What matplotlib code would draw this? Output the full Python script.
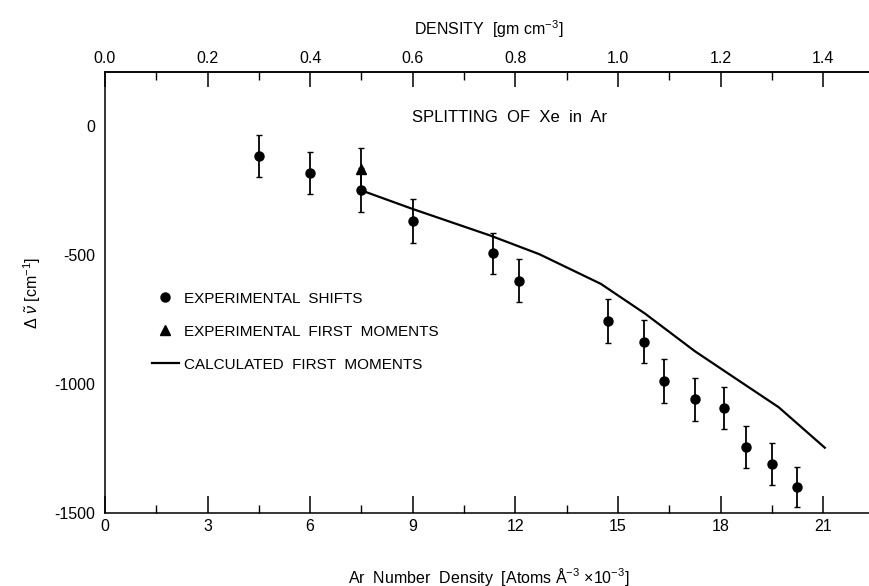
import numpy as np
from matplotlib import pyplot as plt
from matplotlib.lines import Line2D
from matplotlib.ticker import MultipleLocator, FixedLocator, FormatStrFormatter

# font: narrow sans to mimic the drafting lettering
plt.rcParams['font.family'] = ['Liberation Sans Narrow', 'Liberation Sans', 'DejaVu Sans']
plt.rcParams['mathtext.fontset'] = 'custom'
plt.rcParams['mathtext.rm'] = 'Liberation Sans'
plt.rcParams['mathtext.it'] = 'Liberation Sans:italic'

# experimental shifts (circles) with error bars
shift_x = [4.5, 6.0, 7.5, 9.0, 11.35, 12.1, 14.7, 15.75, 16.35, 17.25, 18.1, 18.75, 19.5, 20.25]
shift_y = [-116, -183, -248, -368, -493, -600, -757, -836, -988, -1059, -1093, -1243, -1311, -1399]
shift_err = [80, 81, 84, 84, 80, 83, 85, 83, 85, 83, 80, 81, 82, 78]

# experimental first moments (triangle)
moment_x = [7.5]
moment_y = [-168]
moment_err = [81]

# calculated first moments (solid curve)
calc_x = [7.5, 9.0, 11.25, 12.7, 14.5, 15.8, 17.25, 18.4, 19.7, 21.05]
calc_y = [-250, -322, -424, -497, -612, -728, -873, -975, -1090, -1247]

y_ticks = [0, -500, -1000, -1500]
y_ticklabels = ['0', '-500', '-1000', '-1500']
top_ticks = [0.0, 0.2, 0.4, 0.6, 0.8, 1.0, 1.2, 1.4]

fig = plt.figure(figsize=(8.7, 5.86), dpi=100)
# axes runs a bit past the right edge, like the cropped scan
ax = fig.add_axes([105/870, 1-513/586, (872-105)/870, (513-72)/586])

ax.errorbar(shift_x, shift_y, yerr=shift_err, fmt='o', color='k', ms=6.5,
            elinewidth=1.3, capsize=2.2, capthick=1.0)
ax.errorbar(moment_x, moment_y, yerr=moment_err, fmt='^', color='k', ms=6.5,
            elinewidth=1.3, capsize=2.2, capthick=1.0)
ax.plot(calc_x, calc_y, '-', color='k', lw=1.6)

ax.set_xlim(0, 22.43)
ax.set_ylim(-1500, 209)

# bottom axis
ax.xaxis.set_major_locator(MultipleLocator(3))
ax.xaxis.set_minor_locator(MultipleLocator(1.5))
ax.tick_params(axis='x', which='major', direction='in', length=12, width=1.1,
               labelsize=11.5, pad=4, top=False)
ax.tick_params(axis='x', which='minor', direction='in', length=6, width=1.0, top=False)

# left axis: labels only at 0..-1500, ticks at -500 and -1000 on both sides
ax.yaxis.set_major_locator(FixedLocator(y_ticks))
ax.set_yticklabels(y_ticklabels)
ax.yaxis.set_minor_locator(FixedLocator([-500, -1000]))
ax.tick_params(axis='y', which='major', length=0, labelsize=11.5, pad=7)
ax.tick_params(axis='y', which='minor', direction='in', length=11, width=1.1,
               left=True, right=True)

for s in ax.spines.values():
    s.set_linewidth(1.1)

# top axis: density in gm/cm^3 (1.4 <-> 21)
top = ax.secondary_xaxis('top', functions=(lambda x: x/15.0, lambda d: d*15.0))
top.xaxis.set_major_locator(FixedLocator(top_ticks))
top.xaxis.set_minor_locator(FixedLocator([0.1, 0.3, 0.5, 0.7, 0.9, 1.1, 1.3]))
top.xaxis.set_major_formatter(FormatStrFormatter('%.1f'))
top.tick_params(which='major', direction='in', length=11, width=1.1, labelsize=11.5, pad=4)
top.tick_params(which='minor', direction='in', length=6, width=1.0)
top.spines['top'].set_linewidth(1.1)
top.set_xlabel(r'DENSITY  [gm cm$^{-3}$]', fontsize=11.5, labelpad=12)

ax.set_xlabel(r'Ar  Number  Density  [Atoms Å$^{-3}$ $\times$10$^{-3}$]',
              fontsize=11.5, labelpad=23)
ax.set_ylabel(r'$\Delta\ \tilde{\nu}$ [cm$^{-1}$]', fontsize=11.5, labelpad=8)

ax.text(412/870, 1-118/586, 'SPLITTING  OF  Xe  in  Ar', transform=fig.transFigure,
        fontsize=12, va='center', ha='left')

handles = [Line2D([], [], marker='o', color='k', ls='none', ms=6.5),
           Line2D([], [], marker='^', color='k', ls='none', ms=6.5),
           Line2D([], [], color='k', lw=1.6)]
labels = ['EXPERIMENTAL  SHIFTS', 'EXPERIMENTAL  FIRST  MOMENTS', 'CALCULATED  FIRST  MOMENTS']
ax.legend(handles, labels, loc='upper left', bbox_to_anchor=(144/870, 1-284/586),
          bbox_transform=fig.transFigure, frameon=False, fontsize=11,
          borderpad=0, handlelength=1.8, handletextpad=0.3, labelspacing=1.25)

plt.savefig('out.png', dpi=100)
